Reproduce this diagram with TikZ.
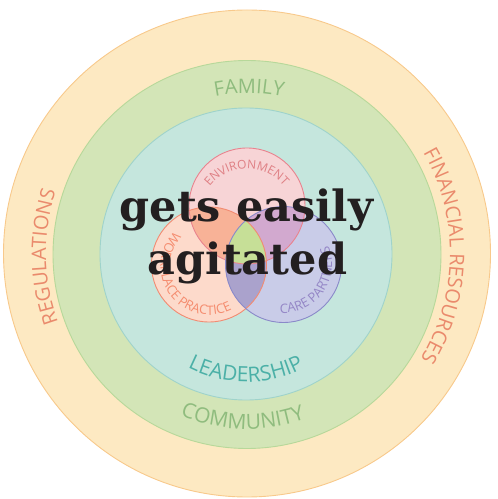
\documentclass[tikz,border=0pt]{standalone}
\usepackage{fontspec}
\setmainfont{DejaVu Serif}
\newfontfamily\labfont{Open Sans}
\usetikzlibrary{decorations.text}
\definecolor{oFill}{HTML}{FDE9C2}
\definecolor{oLine}{HTML}{F8C98B}
\definecolor{gFill}{HTML}{D3E5B7}
\definecolor{gLine}{HTML}{B7D89A}
\definecolor{tFill}{HTML}{C5E6DD}
\definecolor{tLine}{HTML}{9FD3CB}
\definecolor{pFill}{HTML}{F7D4D6}
\definecolor{pLine}{HTML}{E9838E}
\definecolor{sFill}{HTML}{FDDACB}
\definecolor{sLine}{HTML}{F28B72}
\definecolor{bFill}{HTML}{C9CCE8}
\definecolor{bLine}{HTML}{8A89C9}
\definecolor{psFill}{HTML}{F8B297}
\definecolor{pbFill}{HTML}{D2A9CF}
\definecolor{sbFill}{HTML}{AAA2CC}
\definecolor{allFill}{HTML}{C6DF97}
\definecolor{outerTxt}{HTML}{EA8A6C}
\definecolor{greenTxt}{HTML}{8FBC7E}
\definecolor{leadTxt}{HTML}{4BB0A7}
\definecolor{envTxt}{HTML}{DF7F84}
\definecolor{workTxt}{HTML}{F58C6F}
\definecolor{careTxt}{HTML}{9486C6}
\definecolor{bigTxt}{HTML}{231F20}
\tikzset{
  ringshape/.style={circle, inner sep=0pt, outer sep=0pt, line width=0.9pt},
  arclabel/.style={decorate, decoration={text along path, text align=center, text color=#1}},
}
\begin{document}
\begin{tikzpicture}[x=1pt,y=1pt]
\useasboundingbox (0,0) rectangle (498,499);
% centres
\coordinate (cO) at (247,245.5);
\coordinate (cG) at (247,244.5);
\coordinate (cT) at (246,245);
\coordinate (cP) at (247,293);
\coordinate (cS) at (209,234.5);
\coordinate (cB) at (283.5,234.5);
% rings
\node[ringshape, fill=oFill, draw=oLine, minimum size=487pt] (outer) at (cO) {};
\node[ringshape, fill=gFill, draw=gLine, minimum size=388pt] (green) at (cG) {};
\node[ringshape, fill=tFill, draw=tLine, minimum size=292pt] (teal) at (cT) {};
% venn fills
\fill[pFill] (cP) circle[radius=58];
\fill[sFill] (cS) circle[radius=57.5];
\fill[bFill] (cB) circle[radius=58];
\begin{scope}\clip (cP) circle[radius=58]; \fill[psFill] (cS) circle[radius=57.5]; \end{scope}
\begin{scope}\clip (cP) circle[radius=58]; \fill[pbFill] (cB) circle[radius=58]; \end{scope}
\begin{scope}\clip (cS) circle[radius=57.5]; \fill[sbFill] (cB) circle[radius=58]; \end{scope}
\begin{scope}\clip (cP) circle[radius=58]; \clip (cS) circle[radius=57.5]; \fill[allFill] (cB) circle[radius=58]; \end{scope}
\node[ringshape, draw=pLine, minimum size=116pt] (env) at (cP) {};
\node[ringshape, draw=sLine, minimum size=115pt] (work) at (cS) {};
\node[ringshape, draw=bLine, minimum size=116pt] (care) at (cB) {};
% ring labels
\path[arclabel=greenTxt, decoration={text={|\labfont\fontsize{20}{24}\selectfont|FAMILY}}]
  (cG) ++(129.3:161.5) arc[start angle=129.3, end angle=49.3, radius=161.5];
\path[arclabel=greenTxt, decoration={text={|\labfont\fontsize{21}{24}\selectfont|COMMUNITY}}]
  (cG) ++(218.5:174.5) arc[start angle=218.5, end angle=318.5, radius=174.5];
\path[arclabel=leadTxt, decoration={text={|\labfont\fontsize{21}{24}\selectfont|LEADERSHIP}}]
  (cT) ++(220:128) arc[start angle=220, end angle=320, radius=128];
\path[arclabel=outerTxt, decoration={text={|\labfont\fontsize{20}{24}\selectfont|REGULATIONS}}]
  (cO) ++(231:201) arc[start angle=231, end angle=131, radius=201];
\path[arclabel=outerTxt, decoration={text={|\labfont\fontsize{20}{24}\selectfont|FINANCIAL RESOURCES}}]
  (cO) ++(49.2:203) arc[start angle=49.2, end angle=-50.8, radius=203];
% venn labels
\coordinate (cEnvTxt) at (247,283);
\coordinate (cWorkTxt) at (209.5,233);
\path[arclabel=envTxt, decoration={text={|\labfont\fontsize{12}{14}\selectfont|ENVIRONMENT}}]
  (cEnvTxt) ++(150.5:47.5) arc[start angle=150.5, end angle=30.5, radius=47.5];
\path[arclabel=workTxt, decoration={text={|\labfont\fontsize{13}{15}\selectfont|WORKPLACE PRACTICE}}]
  (cWorkTxt) ++(116.5:49) arc[start angle=116.5, end angle=316.5, radius=49];
\path[arclabel=careTxt, decoration={text={|\labfont\fontsize{13}{15}\selectfont|CARE PARTNERS}}]
  (cB) ++(244:48.5) arc[start angle=244, end angle=404, radius=48.5];
% central text
\node[anchor=base, inner sep=0pt, text=bigTxt, font=\fontsize{43}{53}\selectfont\bfseries] (line1) at (246.5,277) {gets easily};
\node[anchor=base, inner sep=0pt, text=bigTxt, font=\fontsize{43}{53}\selectfont\bfseries] (line2) at (247.5,224) {agitated};
\end{tikzpicture}
\end{document}
